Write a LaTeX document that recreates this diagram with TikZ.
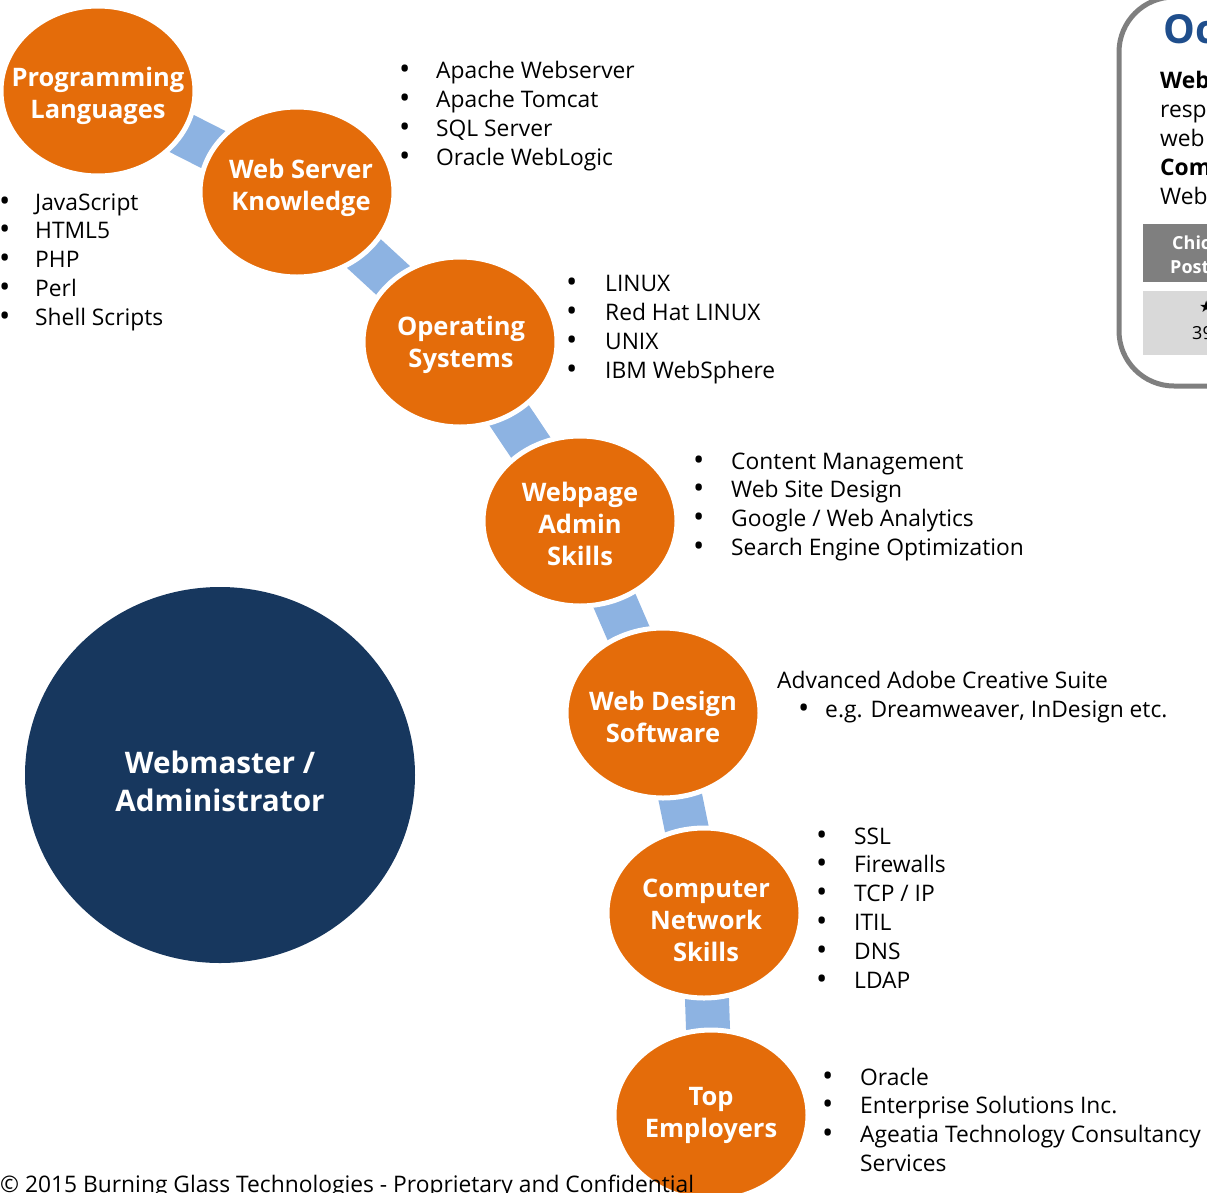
\documentclass[tikz,border=0pt]{standalone}
\usepackage{fontspec}
\setmainfont{Open Sans}
\newfontfamily\symfont{DejaVu Sans}
\usetikzlibrary{backgrounds,shapes.geometric}
\definecolor{orng}{HTML}{E46C0A}
\definecolor{lblue}{HTML}{8DB3E2}
\definecolor{navy}{HTML}{17375E}
\definecolor{panelblue}{HTML}{1F4E8C}
\definecolor{dgray}{HTML}{7F7F7F}
\definecolor{lgray}{HTML}{D9D9D9}
\tikzset{
  skill/.style={ellipse, fill=orng, draw=white, line width=5pt, minimum width=194pt, minimum height=170pt, inner sep=0pt},
  lbl/.style={text=white, font=\fontsize{25.5}{32}\selectfont\bfseries, align=center, inner sep=0pt},
  conn/.style={draw=lblue, line width=44pt},
  item/.style={anchor=base west, inner sep=0pt, font=\fontsize{22.8}{29}\selectfont},
  bul/.style={anchor=base west, inner sep=0pt, font=\fontsize{30}{29}\selectfont},
}
\begin{document}
\begin{tikzpicture}[x=1pt,y=-1pt]
\useasboundingbox (0,0) rectangle (1207,1192);
\clip (0,0) rectangle (1207,1192);
% circles
\node[skill] (c1) at (98,91) {};
\node[skill] (c2) at (297,192) {};
\node[skill] (c3) at (460,342) {};
\node[skill] (c4) at (580,521) {};
\node[skill] (c5) at (663,713) {};
\node[skill] (c6) at (704,913) {};
\node[skill] (c7) at (711,1115) {};
\node[ellipse, fill=navy, minimum width=390pt, minimum height=376pt, inner sep=0pt] (big) at (220,775) {};
\begin{scope}[on background layer]
\draw[conn] (c1.center) -- (c2.center);
\draw[conn] (c2.center) -- (c3.center);
\draw[conn] (c3.center) -- (c4.center);
\draw[conn] (c4.center) -- (c5.center);
\draw[conn] (c5.center) -- (c6.center);
\draw[conn] (c6.center) -- (c7.center);
\end{scope}
% labels
\node[lbl] (l1) at (98,96) {Programming\\Languages};
\node[lbl] (l2) at (301,188) {Web Server\\Knowledge};
\node[lbl] (l3) at (461,345) {Operating\\Systems};
\node[lbl] (l4) at (580,524) {Webpage\\Admin\\Skills};
\node[lbl] (l5) at (663,717) {Web Design\\Software};
\node[lbl] (l6) at (706,920) {Computer\\Network\\Skills};
\node[lbl] (l7) at (711,1115) {Top\\Employers};
\node[text=white, font=\fontsize{29.7}{38}\selectfont\bfseries, align=center, inner sep=0pt] (lb) at (220,781) {Webmaster /\\Administrator};
% lists
\foreach \t [count=\i from 0] in {JavaScript,HTML5,PHP,Perl,Shell Scripts}{
  \node[bul] (pb\i) at (-1,211+28.8*\i) {\textbullet};
  \node[item] (pt\i) at (35,210+28.8*\i) {\t};
}
\foreach \t [count=\i from 0] in {Apache Webserver,Apache Tomcat,SQL Server,Oracle WebLogic}{
  \node[bul] (wb\i) at (399,79+29*\i) {\textbullet};
  \node[item] (wt\i) at (436,78+29*\i) {\t};
}
\foreach \t [count=\i from 0] in {LINUX,Red Hat LINUX,UNIX,IBM WebSphere}{
  \node[bul] (ob\i) at (566,292+29*\i) {\textbullet};
  \node[item] (ot\i) at (605,291+29*\i) {\t};
}
\foreach \t [count=\i from 0] in {Content Management,Web Site Design,Google / Web Analytics,Search Engine Optimization}{
  \node[bul] (ab\i) at (693,470+28.8*\i) {\textbullet};
  \node[item] (at\i) at (731,469+28.8*\i) {\t};
}
\node[item] (dt0) at (777,688) {Advanced Adobe Creative Suite};
\node[bul] (db1) at (798,718) {\textbullet};
\node[item] (dt1) at (825,717) {e.g. Dreamweaver, InDesign etc.};
\foreach \t [count=\i from 0] in {SSL,Firewalls,TCP / IP,ITIL,DNS,LDAP}{
  \node[bul] (nb\i) at (816,845+28.8*\i) {\textbullet};
  \node[item] (nt\i) at (854,844+28.8*\i) {\t};
}
\foreach \t [count=\i from 0] in {Oracle,Enterprise Solutions Inc.,Ageatia Technology Consultancy}{
  \node[bul] (eb\i) at (822,1086+28.7*\i) {\textbullet};
  \node[item] (et\i) at (860,1085+28.7*\i) {\t};
}
\node[item] (et3) at (860,1171) {Services};
% copyright
\node[item, font=\fontsize{22.8}{25}\selectfont] (copy) at (0,1192) {\textcopyright{} 2015 Burning Glass Technologies - Proprietary and Confidential};
% right panel
\draw[dgray, line width=5pt, rounded corners=55pt] (1119,-3) rectangle (1330,386);
\fill[dgray] (1143,224) rectangle (1210,282);
\fill[lgray] (1143,291) rectangle (1210,355);
\node[anchor=base west, inner sep=0pt, text=panelblue, font=\fontsize{40}{44}\selectfont\bfseries] (po) at (1163,43) {Oc};
\node[item, font=\fontsize{22.8}{29}\selectfont\bfseries] (p1) at (1160,88) {Web};
\node[item] (p2) at (1160,117) {respo};
\node[item] (p3) at (1160,146) {web};
\node[item, font=\fontsize{22.8}{29}\selectfont\bfseries] (p4) at (1160,175) {Com};
\node[item] (p5) at (1160,204) {Web};
\node[item, text=white, font=\fontsize{18}{22}\selectfont\bfseries] (g1) at (1172,249) {Chic};
\node[item, text=white, font=\fontsize{18}{22}\selectfont\bfseries] (g2) at (1170,273) {Post};
\node[item, font=\symfont\fontsize{16}{20}\selectfont] (g3) at (1199,312) {★};
\node[item, font=\fontsize{18}{22}\selectfont] (g4) at (1192,339) {39};
\end{tikzpicture}
\end{document}
